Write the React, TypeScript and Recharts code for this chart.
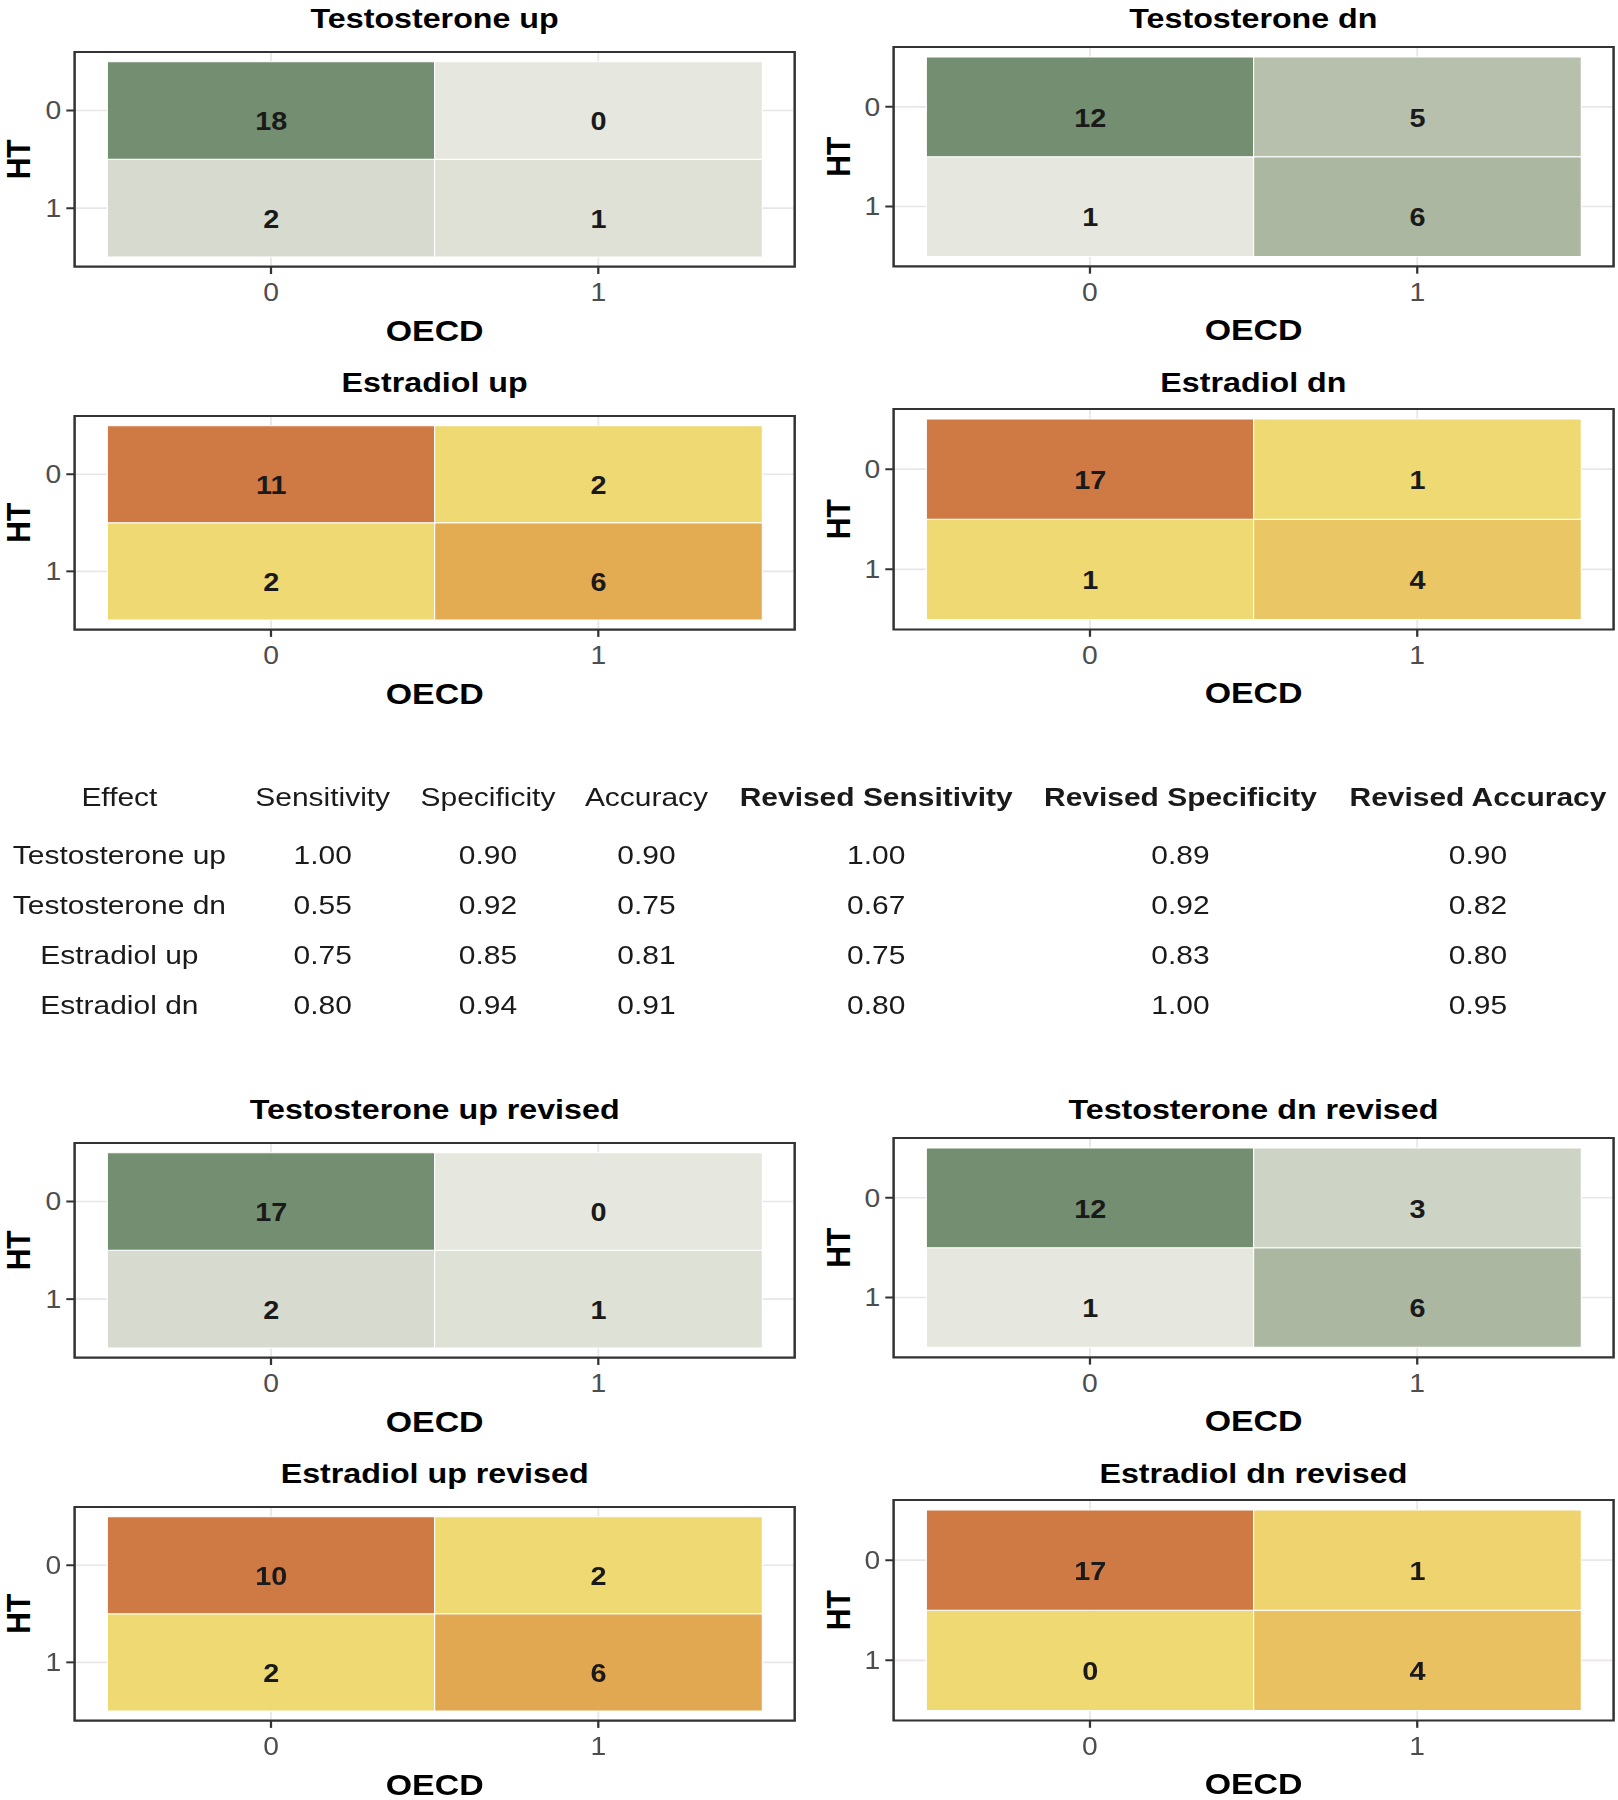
import React from "react";
import { BarChart, Bar, XAxis, YAxis, CartesianGrid, Cell, LabelList, ReferenceArea } from "recharts";

const OECD_LEVELS = [0, 1];
const HT_LEVELS = [0, 1];

// counts per panel: rows = HT 0, HT 1; columns = OECD 0, OECD 1
const testosteroneUp = [[18, 0], [2, 1]];
const testosteroneDn = [[12, 5], [1, 6]];
const estradiolUp = [[11, 2], [2, 6]];
const estradiolDn = [[17, 1], [1, 4]];
const testosteroneUpRevised = [[17, 0], [2, 1]];
const testosteroneDnRevised = [[12, 3], [1, 6]];
const estradiolUpRevised = [[10, 2], [2, 6]];
const estradiolDnRevised = [[17, 1], [0, 4]];

const tableHeaders = ["Effect", "Sensitivity", "Specificity", "Accuracy", "Revised Sensitivity", "Revised Specificity", "Revised Accuracy"];
const effects = ["Testosterone up", "Testosterone dn", "Estradiol up", "Estradiol dn"];
const sensitivity = [1.0, 0.55, 0.75, 0.8];
const specificity = [0.9, 0.92, 0.85, 0.94];
const accuracy = [0.9, 0.75, 0.81, 0.91];
const revisedSensitivity = [1.0, 0.67, 0.75, 0.8];
const revisedSpecificity = [0.89, 0.92, 0.83, 1.0];
const revisedAccuracy = [0.9, 0.82, 0.8, 0.95];

const FONT = "'Liberation Sans', Arial, Helvetica, sans-serif";
// the source figure is a bit wider than its fonts, so draw narrow and stretch
const SX = 1.13;
const u = (x: number) => x / SX;

const GREENS: [number, string][] = [[0, "#E6E7DE"], [0.45, "#ABB7A0"], [1, "#748E71"]];
const ORANGES: [number, string][] = [[0, "#EFD973"], [0.44, "#E4AC52"], [1, "#CF7944"]];

const hexToRgb = (h: string) => {
  const n = parseInt(h.slice(1), 16);
  return [(n >> 16) & 255, (n >> 8) & 255, n & 255];
};
function ramp(stops: [number, string][], t: number) {
  for (let i = 1; i < stops.length; i++) {
    const [t0, c0] = stops[i - 1];
    const [t1, c1] = stops[i];
    if (t <= t1) {
      const k = (t - t0) / (t1 - t0);
      const a = hexToRgb(c0), b = hexToRgb(c1);
      return `rgb(${a.map((v, j) => Math.round(v + (b[j] - v) * k)).join(",")})`;
    }
  }
  return stops[stops.length - 1][1];
}

const COLS = [
  { chartLeft: 0, boxLeft: 74.6, boxRight: 794.7, chartRight: 810, htX: 18 },
  { chartLeft: 810, boxLeft: 893.4, boxRight: 1613.4, chartRight: 1618, htX: 838 },
];

const panels = [
  { title: "Testosterone up", counts: testosteroneUp, pal: GREENS, col: 0, titleY: 18.3, boxTop: 51.7, boxBottom: 266.4 },
  { title: "Testosterone dn", counts: testosteroneDn, pal: GREENS, col: 1, titleY: 18.3, boxTop: 47, boxBottom: 266.4 },
  { title: "Estradiol up", counts: estradiolUp, pal: ORANGES, col: 0, titleY: 382, boxTop: 415.7, boxBottom: 629.3 },
  { title: "Estradiol dn", counts: estradiolDn, pal: ORANGES, col: 1, titleY: 382, boxTop: 408.8, boxBottom: 629.3 },
  { title: "Testosterone up revised", counts: testosteroneUpRevised, pal: GREENS, col: 0, titleY: 1109, boxTop: 1142.6, boxBottom: 1357.3 },
  { title: "Testosterone dn revised", counts: testosteroneDnRevised, pal: GREENS, col: 1, titleY: 1109, boxTop: 1138, boxBottom: 1357.3 },
  { title: "Estradiol up revised", counts: estradiolUpRevised, pal: ORANGES, col: 0, titleY: 1473, boxTop: 1506.6, boxBottom: 1720.2 },
  { title: "Estradiol dn revised", counts: estradiolDnRevised, pal: ORANGES, col: 1, titleY: 1473, boxTop: 1499.7, boxBottom: 1720.2 },
];

const renderCount = (props: any) => {
  const vb = props.viewBox ?? props;
  const x = vb.x + vb.width / 2;
  const y = vb.y + vb.height / 2 + 11;
  return (
    <text x={x} y={y} textAnchor="middle" dominantBaseline="central" fontSize={25.5} fontWeight={700} fill="#1A1A1A">
      {props.value}
    </text>
  );
};

function Panel({ title, counts, pal, col, titleY, boxTop, boxBottom }: any) {
  const geo = COLS[col];
  const flat = counts.flat();
  const lo = Math.min(...flat), hi = Math.max(...flat);
  const fill = (n: number) => ramp(pal, hi === lo ? 0 : (n - lo) / (hi - lo));
  const rows = OECD_LEVELS.map((o, j) => ({
    oecd: o,
    bottomSpan: 1,
    topSpan: 1,
    nTop: counts[0][j],
    nBottom: counts[1][j],
  }));
  const MT = 4, XH = 82;
  const boxH = boxBottom - boxTop;
  const titleFs = 28.5;
  const htLabel = (p: any) => {
    const vb = p.viewBox ?? { x: 0, y: MT, width: 0, height: boxH };
    const x = u(geo.htX - geo.chartLeft);
    const y = vb.y + vb.height / 2;
    return (
      <text x={x} y={y} transform={`rotate(-90 ${x} ${y})`} textAnchor="middle" dominantBaseline="central" fontSize={30} fontWeight={700} fill="#000">
        HT
      </text>
    );
  };
  return (
    <>
      <div
        style={{
          position: "absolute",
          left: u((geo.boxLeft + geo.boxRight) / 2) - 300,
          width: 600,
          top: titleY - 0.4885 * titleFs,
          textAlign: "center",
          fontSize: titleFs,
          lineHeight: `${titleFs}px`,
          fontWeight: 700,
          color: "#000",
        }}
      >
        {title}
      </div>
      <div style={{ position: "absolute", left: u(geo.chartLeft), top: boxTop - MT }}>
        <BarChart
          width={u(geo.chartRight - geo.chartLeft)}
          height={MT + boxH + XH}
          data={rows}
          margin={{ top: MT, right: u(geo.chartRight - geo.boxRight), bottom: 0, left: 0 }}
          barCategoryGap={0}
          barGap={0}
        >
          <CartesianGrid stroke="#EBE6E6" strokeWidth={1.6} />
          <XAxis
            type="number"
            dataKey="oecd"
            domain={[-0.6, 1.6]}
            ticks={OECD_LEVELS}
            allowDataOverflow
            interval={0}
            axisLine={false}
            tickLine={{ stroke: "#333333", strokeWidth: 2 }}
            tickSize={7.3}
            tickMargin={9.5}
            height={XH}
            tick={{ fill: "#4D4D4D", fontSize: 25 }}
            label={{ value: "OECD", position: "insideBottom", offset: 8, fill: "#000", fontSize: 30, fontWeight: 700 }}
          />
          <YAxis
            type="number"
            domain={[-0.1, 2.1]}
            ticks={[0.5, 1.5]}
            allowDataOverflow
            interval={0}
            width={u(geo.boxLeft - geo.chartLeft)}
            tickFormatter={(v: number) => String(HT_LEVELS[HT_LEVELS.length - 1 - Math.floor(v)])}
            axisLine={false}
            tickLine={{ stroke: "#333333", strokeWidth: 2 }}
            tickSize={u(8.3)}
            tickMargin={u(5)}
            tick={{ fill: "#4D4D4D", fontSize: 25 }}
            label={htLabel}
          />
          <Bar dataKey="bottomSpan" stackId="tile" isAnimationActive={false} stroke="#FFFFFF" strokeWidth={1}>
            {rows.map((r, i) => (
              <Cell key={`b-${i}`} fill={fill(r.nBottom)} />
            ))}
            <LabelList dataKey="nBottom" content={renderCount} />
          </Bar>
          <Bar dataKey="topSpan" stackId="tile" isAnimationActive={false} stroke="#FFFFFF" strokeWidth={1}>
            {rows.map((r, i) => (
              <Cell key={`t-${i}`} fill={fill(r.nTop)} />
            ))}
            <LabelList dataKey="nTop" content={renderCount} />
          </Bar>
          <ReferenceArea x1={-0.6} x2={1.6} y1={-0.1} y2={2.1} fill="none" stroke="#333333" strokeWidth={2.2} ifOverflow="visible" />
        </BarChart>
      </div>
    </>
  );
}

const TABLE_X = [119.4, 322.7, 488, 646.5, 876.2, 1180.5, 1478];
const TABLE_Y = [797, 855, 905, 955, 1005];
const TABLE_FS = 26.5;

function Table() {
  const cols = [sensitivity, specificity, accuracy, revisedSensitivity, revisedSpecificity, revisedAccuracy];
  const cell = (text: string, ci: number, ri: number, bold: boolean) => (
    <div
      key={`${ri}-${ci}`}
      style={{
        position: "absolute",
        left: u(TABLE_X[ci]) - 200,
        width: 400,
        top: TABLE_Y[ri] - 0.4885 * TABLE_FS,
        textAlign: "center",
        fontSize: TABLE_FS,
        lineHeight: `${TABLE_FS}px`,
        fontWeight: bold ? 700 : 400,
        color: "#1A1A1A",
        whiteSpace: "nowrap",
      }}
    >
      {text}
    </div>
  );
  return (
    <>
      {tableHeaders.map((h, ci) => cell(h, ci, 0, ci >= 4))}
      {effects.map((e, ri) => (
        <React.Fragment key={e}>
          {cell(e, 0, ri + 1, false)}
          {cols.map((c, ci) => cell(c[ri].toFixed(2), ci + 1, ri + 1, false))}
        </React.Fragment>
      ))}
    </>
  );
}

export default function App() {
  return (
    <div
      style={{
        position: "absolute",
        left: 0,
        top: 0,
        width: u(1618),
        height: 1800,
        transform: `scaleX(${SX})`,
        transformOrigin: "0 0",
        fontFamily: FONT,
        background: "#FFFFFF",
      }}
    >
      {panels.map((p) => (
        <Panel key={p.title} {...p} />
      ))}
      <Table />
    </div>
  );
}
